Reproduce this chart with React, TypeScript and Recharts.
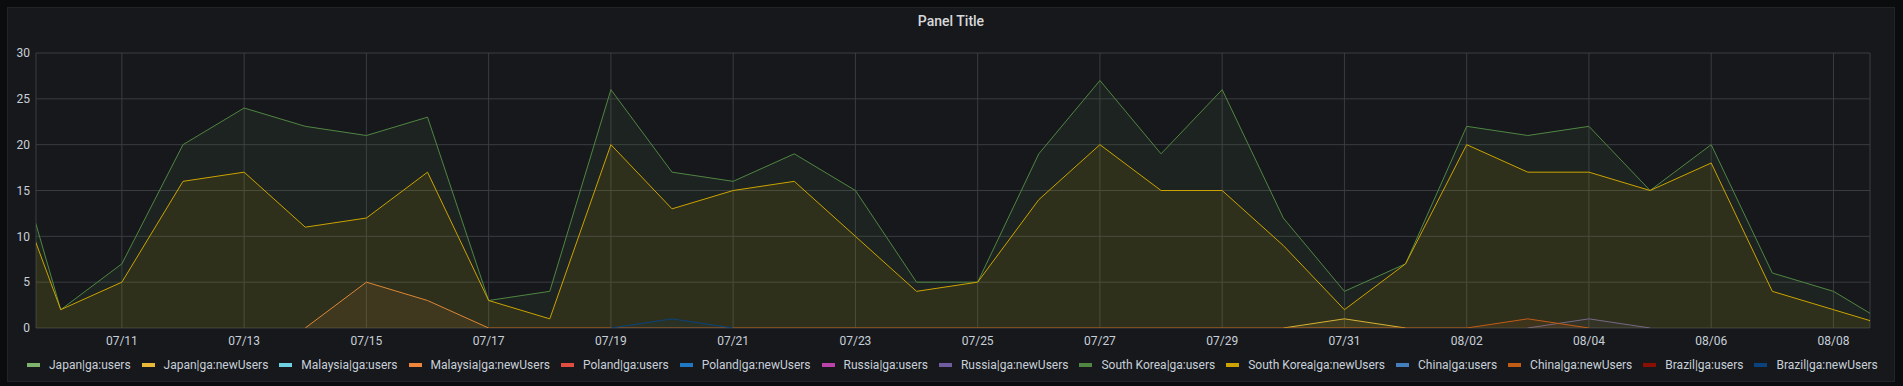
import React from 'react';
import { AreaChart, Area, XAxis, YAxis, CartesianGrid } from 'recharts';

const days = [
  '07/09', '07/10', '07/11', '07/12', '07/13', '07/14', '07/15', '07/16',
  '07/17', '07/18', '07/19', '07/20', '07/21', '07/22', '07/23', '07/24',
  '07/25', '07/26', '07/27', '07/28', '07/29', '07/30', '07/31', '08/01',
  '08/02', '08/03', '08/04', '08/05', '08/06', '08/07', '08/08', '08/09',
];

const tickLabels = [
  '07/11', '07/13', '07/15', '07/17', '07/19', '07/21', '07/23', '07/25',
  '07/27', '07/29', '07/31', '08/02', '08/04', '08/06', '08/08',
];

const yTicks = [0, 5, 10, 15, 20, 25, 30];

const N = null;

const koreaUsers = [
  25, 2, 7, 20, 24, 22, 21, 23, 3, 4, 26, 17, 16, 19, 15, 5,
  5, 19, 27, 19, 26, 12, 4, 7, 22, 21, 22, 15, 20, 6, 4, 0,
];
const koreaNewUsers = [
  20, 2, 5, 16, 17, 11, 12, 17, 3, 1, 20, 13, 15, 16, 10, 4,
  5, 14, 20, 15, 15, 9, 2, 7, 20, 17, 17, 15, 18, 4, 2, 0,
];
const malaysiaNewUsers = [
  N, N, N, N, N, 0, 5, 3, 0, N, N, N, N, N, N, N,
  N, N, N, N, N, N, N, N, N, N, N, N, N, N, N, N,
];
const chinaNewUsers = [
  N, N, N, N, N, N, N, N, 0, 0, 0, 0, 0, 0, 0, 0,
  0, 0, 0, 0, 0, 0, 0, 0, 0, 1, 0, N, N, N, N, N,
];
const brazilNewUsers = [
  N, N, N, N, N, N, N, N, N, N, 0, 1, 0, N, N, N,
  N, N, N, N, N, N, N, N, N, N, N, N, N, N, N, N,
];
const japanNewUsers = [
  N, N, N, N, N, N, N, N, N, N, N, N, N, N, N, N,
  N, N, N, N, N, 0, 1, 0, N, N, N, N, N, N, N, N,
];
const russiaNewUsers = [
  N, N, N, N, N, N, N, N, N, N, N, N, N, N, N, N,
  N, N, N, N, N, N, N, N, N, 0, 1, 0, N, N, N, N,
];
const empty = days.map(() => null);

const series = [
  { key: 'jpUsers', name: 'Japan|ga:users', color: '#7EB26D', values: empty },
  { key: 'jpNew', name: 'Japan|ga:newUsers', color: '#EAB839', values: japanNewUsers },
  { key: 'myUsers', name: 'Malaysia|ga:users', color: '#6ED0E0', values: empty },
  { key: 'myNew', name: 'Malaysia|ga:newUsers', color: '#EF843C', values: malaysiaNewUsers },
  { key: 'plUsers', name: 'Poland|ga:users', color: '#E24D42', values: empty },
  { key: 'plNew', name: 'Poland|ga:newUsers', color: '#1F78C1', values: empty },
  { key: 'ruUsers', name: 'Russia|ga:users', color: '#BA43A9', values: empty },
  { key: 'ruNew', name: 'Russia|ga:newUsers', color: '#705DA0', values: russiaNewUsers },
  { key: 'krUsers', name: 'South Korea|ga:users', color: '#508642', values: koreaUsers },
  { key: 'krNew', name: 'South Korea|ga:newUsers', color: '#CCA300', values: koreaNewUsers },
  { key: 'cnUsers', name: 'China|ga:users', color: '#447EBC', values: empty },
  { key: 'cnNew', name: 'China|ga:newUsers', color: '#C15C17', values: chinaNewUsers },
  { key: 'brUsers', name: 'Brazil|ga:users', color: '#890F02', values: empty },
  { key: 'brNew', name: 'Brazil|ga:newUsers', color: '#0A437C', values: brazilNewUsers },
];

const DAY = 86400000;
const toTs = (label: string) => {
  const [m, d] = label.split('/').map(Number);
  return Date.UTC(2019, m - 1, d);
};

const data = days.map((day, i) => {
  const row: Record<string, number | null> = { ts: toTs(day) };
  series.forEach((s) => {
    row[s.key] = s.values[i];
  });
  return row;
});

// visible range is "last 30 days" ending mid-afternoon
const domainStart = toTs('07/09') + 0.595 * DAY;
const domainEnd = toTs('08/08') + 0.598 * DAY;
const ticks = tickLabels.map(toTs);

const fmt = (ts: number) => {
  const d = new Date(ts);
  return `${String(d.getUTCMonth() + 1).padStart(2, '0')}/${String(d.getUTCDate()).padStart(2, '0')}`;
};

const axisTick = { fill: '#c7d0d9', fontSize: 12, fontFamily: 'Roboto' };

export default function App() {
  return (
    <div style={{ position: 'fixed', inset: 0, background: '#0b0c0e', fontFamily: 'Roboto' }}>
      <div
        style={{
          position: 'absolute',
          left: 7,
          top: 7,
          width: 1888,
          height: 375,
          background: '#17181c',
          border: '1px solid #222428',
          boxSizing: 'border-box',
        }}
      >
        <div
          style={{
            position: 'absolute',
            top: 5,
            left: 0,
            right: 0,
            textAlign: 'center',
            color: '#d8d9da',
            fontSize: 14,
            fontWeight: 500,
          }}
        >
          Panel Title
        </div>
        <div style={{ position: 'absolute', left: -1, top: -1 }}>
          <AreaChart
            width={1888}
            height={375}
            data={data}
            margin={{ top: 46, right: 25, bottom: 34, left: 0 }}
          >
            <CartesianGrid stroke="#3a3c41" strokeWidth={1} />
            <XAxis
              dataKey="ts"
              type="number"
              scale="time"
              domain={[domainStart, domainEnd]}
              allowDataOverflow
              ticks={ticks}
              tickFormatter={fmt}
              axisLine={false}
              tickLine={false}
              tickSize={0}
              tickMargin={8}
              height={20}
              tick={axisTick}
            />
            <YAxis
              domain={[0, 30]}
              ticks={yTicks}
              axisLine={false}
              tickLine={false}
              tickSize={0}
              tickMargin={6}
              width={29}
              tick={axisTick}
              allowDataOverflow
            />
            {series.map((s) => (
              <Area
                key={s.key}
                dataKey={s.key}
                name={s.name}
                type="linear"
                stroke={s.color}
                strokeWidth={1}
                fill={s.color}
                fillOpacity={0.1}
                dot={false}
                activeDot={false}
                connectNulls={false}
                isAnimationActive={false}
              />
            ))}
          </AreaChart>
        </div>
        <div
          style={{
            position: 'absolute',
            left: 19,
            top: 350,
            display: 'flex',
            alignItems: 'center',
            whiteSpace: 'nowrap',
            fontSize: 12,
            color: '#c7d0d9',
          }}
        >
          {series.map((s) => (
            <div key={s.key} style={{ display: 'flex', alignItems: 'center', marginRight: 11 }}>
              <span
                style={{
                  display: 'inline-block',
                  width: 13,
                  height: 4,
                  background: s.color,
                  marginRight: 9,
                }}
              />
              <span>{s.name}</span>
            </div>
          ))}
        </div>
      </div>
    </div>
  );
}
